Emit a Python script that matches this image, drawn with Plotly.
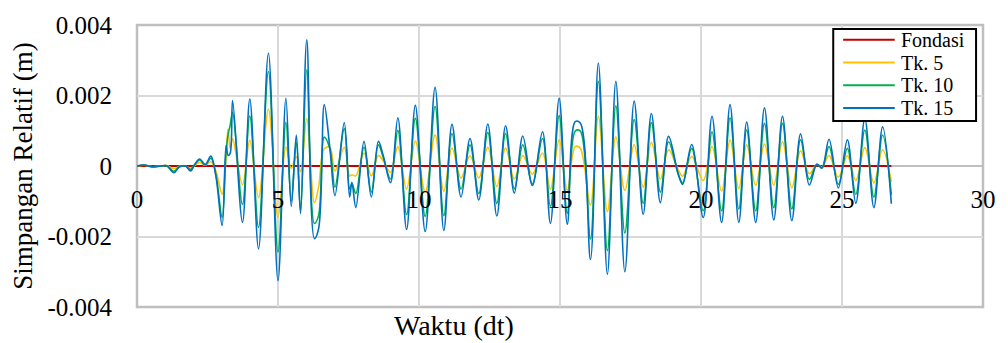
import plotly.graph_objects as go

# Time (s) of read-off turning points, shared by the three storey series
waktu = [0.0, 0.25, 0.55, 0.85, 1.05, 1.31, 1.5, 1.72, 1.9, 2.05, 2.22, 2.42, 2.62, 2.8,
         3.02, 3.16, 3.23, 3.3, 3.39, 3.74, 4.0, 4.31, 4.66, 5.0, 5.28, 5.47, 5.65, 5.8,
         6.02, 6.29, 6.44, 6.64, 6.84, 7.02, 7.35, 7.54, 7.62, 7.76, 8.05, 8.31, 8.56,
         8.73, 8.99, 9.25, 9.56, 9.87, 10.22, 10.57, 10.88, 11.17, 11.49, 11.81, 12.12,
         12.44, 12.76, 13.07, 13.38, 13.68, 14.02, 14.38, 14.66, 14.97, 15.26, 15.54,
         15.72, 16.08, 16.36, 16.68, 16.98, 17.3, 17.63, 17.95, 18.24, 18.56, 18.85,
         19.2, 19.35, 19.67, 20.08, 20.39, 20.73, 21.03, 21.34, 21.62, 21.94, 22.25,
         22.58, 22.89, 23.22, 23.53, 23.84, 24.11, 24.29, 24.54, 24.87, 25.19, 25.49,
         25.81, 26.13, 26.44, 26.75]

tk15 = [0.0, 0.00003, -0.00003, 0.0, 0.00001, -0.00019, -0.00003, 0.0, -0.00014, 0.00005,
        0.0002, 0.00004, 0.00028, -0.0003, -0.00169, 0.00059, 0.0003, 0.00035, 0.00186,
        -0.0016, 0.0019, -0.00235, 0.0032, -0.00325, 0.00192, -0.00115, 0.00088, -0.00135,
        0.00358, -0.00206, -0.00178, 0.00174, 0.0005, -0.00084, 0.00123, -0.00088, -0.00046,
        -0.00118, 0.0007, -0.00088, 0.0007, 0.0003, -0.00047, 0.00137, -0.0018, 0.00172,
        -0.00186, 0.00223, -0.00183, 0.00118, -0.00088, 0.00078, -0.00096, 0.00119,
        -0.00142, 0.00114, -0.00077, 0.00085, -0.00055, 0.00097, -0.00163, 0.00192,
        -0.00165, 0.00126, 0.00122, -0.00265, 0.00292, -0.00307, 0.0024, -0.003, 0.00184,
        -0.00137, 0.00149, -0.00104, 0.00084, -0.00025, -0.00052, 0.00061, -0.00146,
        0.00141, -0.0016, 0.00174, -0.0016, 0.00125, -0.0016, 0.00165, -0.00153, 0.00141,
        -0.00155, 0.00091, -0.00054, 0.00005, -0.00006, 0.00076, -0.00062, 0.00074,
        -0.00106, 0.00135, -0.00118, 0.00111, -0.00107]

tk10 = [0.0, 0.00003, -0.00002, 0.0, 0.00001, -0.00015, -0.00002, 0.0, -0.0001, 0.00004,
        0.00017, 0.00003, 0.00022, -0.00025, -0.00146, 0.0004, 0.0009, 0.00114, 0.00152,
        -0.00109, 0.00142, -0.00174, 0.00268, -0.00244, 0.00124, -0.001, 0.00068, -0.00127,
        0.00273, -0.00163, -0.0014, 0.00082, 0.00049, -0.0006, 0.00106, -0.00065, -0.0005,
        -0.00078, 0.00053, -0.00074, 0.0006, 0.00025, -0.00037, 0.00101, -0.00138, 0.00135,
        -0.00143, 0.00169, -0.00141, 0.00092, -0.00065, 0.0006, -0.00078, 0.00095,
        -0.00106, 0.00092, -0.00065, 0.0006, -0.00051, 0.00078, -0.00115, 0.00143,
        -0.00134, 0.00099, 0.00099, -0.00207, 0.0024, -0.0024, 0.00171, -0.0019, 0.00132,
        -0.00106, 0.00123, -0.00074, 0.00069, -0.00025, -0.00048, 0.0005, -0.00127,
        0.00097, -0.00127, 0.00137, -0.00122, 0.00102, -0.00127, 0.00121, -0.00118,
        0.00121, -0.00122, 0.00074, -0.00038, 0.00005, -0.00005, 0.00055, -0.00052,
        0.0005, -0.0008, 0.00102, -0.00088, 0.00088, -0.00082]

tk5 = [0.0, 0.00002, -0.00002, 0.0, 0.00001, -0.00008, -0.00001, 0.0, -0.00006, 0.00002,
       0.0001, 0.00002, 0.00012, -0.00015, -0.0008, 0.0003, 0.00105, 0.0005, 0.00077,
       -0.00053, 0.00073, -0.0009, 0.00161, -0.00146, 0.00054, -0.00007, 0.00026, -0.00016,
       0.00135, -0.00104, -0.0006, 0.00049, 0.00053, -0.00014, 0.00053, -0.00028, -0.00025,
       -0.00028, 0.00037, -0.00028, 0.0003, 0.00015, -0.00018, 0.00055, -0.00065, 0.00071,
       -0.00074, 0.00088, -0.00072, 0.00051, -0.00034, 0.00029, -0.00034, 0.00053,
       -0.00058, 0.00051, -0.00037, 0.0003, -0.00023, 0.00037, -0.00065, 0.00074,
       -0.00069, 0.00055, 0.0005, -0.0011, 0.00141, -0.00129, 0.00083, -0.00069, 0.0006,
       -0.0006, 0.00067, -0.00037, 0.00046, -0.00012, -0.00029, 0.00027, -0.00041,
       0.00055, -0.00071, 0.00074, -0.00064, 0.0006, -0.00055, 0.00062, -0.00054, 0.00069,
       -0.00062, 0.00043, -0.00022, 0.00004, -0.00003, 0.0003, -0.00032, 0.00029,
       -0.00041, 0.00052, -0.00048, 0.00046, -0.00045]

fondasi_t = [0.0, 26.75]
fondasi = [0.0, 0.0]

series_names = ["Fondasi", "Tk. 5", "Tk. 10", "Tk. 15"]
series_colors = ["#C00000", "#FFC000", "#00B050", "#0070C0"]

y_ticks = [-0.004, -0.002, 0, 0.002, 0.004]
y_ticktext = ["-0.004", "-0.002", "0", "0.002", "0.004"]
x_ticks = [0, 5, 10, 15, 20, 25, 30]

FONT = "Liberation Serif"

fig = go.Figure()
fig.add_trace(go.Scatter(x=fondasi_t, y=fondasi, mode="lines", name=series_names[0],
                         line=dict(color=series_colors[0], width=2)))
for nm, col, ys in zip(series_names[1:], series_colors[1:], [tk5, tk10, tk15]):
    fig.add_trace(go.Scatter(x=waktu, y=ys, mode="lines", name=nm,
                             line=dict(color=col, width=1.6, shape="spline", smoothing=1)))

# Legend box (layout decoration so its compact Excel-like spacing can be matched)
PX0, PW, PY0, PH = 137, 853, 307, 285
def px(x): return (x - PX0) / PW
def py(y): return (PY0 - y) / PH

shapes = [dict(type="rect", xref="paper", yref="paper", x0=0, x1=1, y0=0, y1=1,
               line=dict(color="#BFBFBF", width=2.5), layer="below"),
          dict(type="rect", xref="paper", yref="paper", x0=px(839), x1=px(983),
               y0=py(119), y1=py(26), line=dict(color="black", width=2),
               fillcolor="white", layer="above")]
annotations = [dict(text="Waktu (dt)", xref="paper", yref="paper",
                    x=px(457), y=0, yshift=-18, xanchor="center", yanchor="middle",
                    showarrow=False, font=dict(family=FONT, size=28, color="black"))]
row_y = [37, 60, 83, 106]
for nm, col, ry in zip(series_names, series_colors, row_y):
    shapes.append(dict(type="line", xref="paper", yref="paper", x0=px(849), x1=px(901),
                       y0=py(ry), y1=py(ry), line=dict(color=col, width=2), layer="above"))
    annotations.append(dict(text=nm, xref="paper", yref="paper", x=px(906), y=py(ry),
                            xanchor="left", yanchor="middle", showarrow=False,
                            height=20, borderpad=0,
                            font=dict(family=FONT, size=20, color="black")))

fig.update_layout(
    width=1008, height=343,
    margin=dict(l=137, r=18, t=22, b=36),
    paper_bgcolor="white", plot_bgcolor="white",
    font=dict(family=FONT, color="black"),
    showlegend=False,
    xaxis=dict(range=[0, 30], tickvals=x_ticks, anchor="free", position=0.5,
               showgrid=True, gridcolor="#D9D9D9", gridwidth=2,
               showline=False, zeroline=False, ticks="",
               tickfont=dict(family=FONT, size=25, color="black"),
               ticklabelstandoff=16),
    yaxis=dict(range=[-0.004, 0.004], tickvals=y_ticks, ticktext=y_ticktext,
               showgrid=True, gridcolor="#D9D9D9", gridwidth=2,
               zeroline=True, zerolinecolor="#BFBFBF", zerolinewidth=2,
               showline=False, ticks="",
               tickfont=dict(family=FONT, size=25, color="black"),
               ticklabelstandoff=24,
               title=dict(text="Simpangan Relatif (m)", standoff=6,
                          font=dict(family=FONT, size=27, color="black"))),
    shapes=shapes,
    annotations=annotations,
)

fig.write_html("out.html")
